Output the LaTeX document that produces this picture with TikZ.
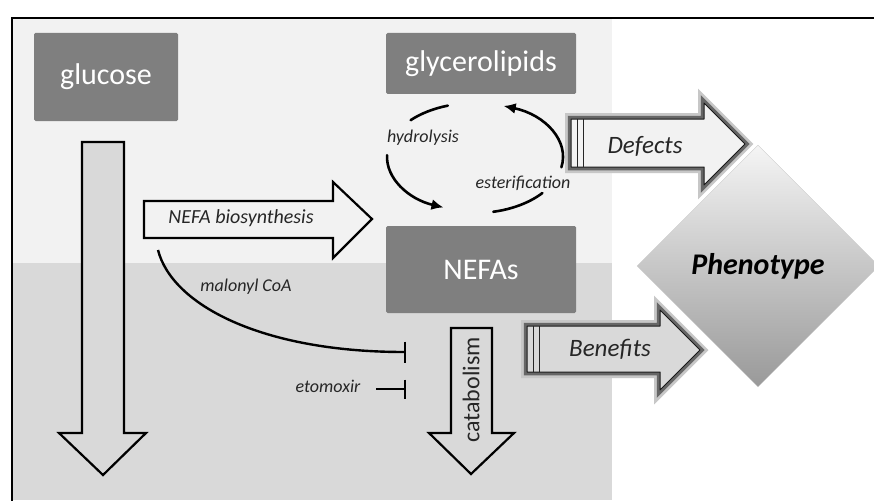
\documentclass[tikz,border=0pt]{standalone}
\usepackage{fontspec}
\setmainfont{Carlito}
\usetikzlibrary{shapes.geometric,arrows.meta}
\definecolor{boxgray}{HTML}{7F7F7F}
\definecolor{paleband}{HTML}{F2F2F2}
\definecolor{darkband}{HTML}{D9D9D9}
\definecolor{ink}{HTML}{262626}
\begin{document}
\begin{tikzpicture}[x=1pt,y=-1pt]
        \tikzstyle{metab} = [fill=boxgray, rounded corners=1.5pt, text=white, inner sep=0pt, font=\fontsize{30}{36}\selectfont]
        \tikzstyle{bigarrow} = [draw=black, line width=2.2pt, line join=miter]
        \tikzstyle{glowarrow} = [draw=black!90, line width=1pt, line join=round, preaction={draw=black!22, line width=12pt}, preaction={draw=black!60, line width=6.5pt}]
        \tikzstyle{cyclearc} = [line width=2.6pt, line cap=round]
        \tikzstyle{lbl} = [text=ink, font=\fontsize{18}{22}\selectfont\itshape]

		\useasboundingbox (0,0) rectangle (874,500);
		\fill[white] (0,0) rectangle (874,500);
		\fill[paleband] (12,18) rectangle (612,263);
		\fill[darkband] (12,263) rectangle (612,500);
		\draw[line width=2.7pt] (12,520) -- (12,18) -- (890,18);

		\node[metab, minimum width=144pt, minimum height=88pt] (glucose) at (106,77) {glucose};
		\node[metab, minimum width=190pt, minimum height=61pt] (glycerolipids) at (481,63.5) {glycerolipids};
		\node[metab, minimum width=190pt, minimum height=87pt] (nefas) at (481,269.5) {NEFAs};

		\draw[bigarrow, fill=darkband] (82,142) -- (124,142) -- (124,433) -- (146,433) -- (103,475) -- (59,433) -- (82,433) -- cycle;
		\draw[bigarrow, fill=paleband] (144,201) -- (333,201) -- (333,182) -- (372,219) -- (333,258) -- (333,238) -- (144,238) -- cycle;
		\draw[bigarrow, fill=darkband] (451,328) -- (492,328) -- (492,433) -- (514,433) -- (471,474) -- (429,433) -- (451,433) -- cycle;
		\node[lbl, font=\fontsize{20}{24}\selectfont\itshape] (biosyn) at (241,218) {NEFA biosynthesis};
		\node[text=ink, rotate=90, font=\fontsize{24}{28}\selectfont] (catab) at (471,390) {catabolism};

		\coordinate (cyc) at (475,157);
		\draw[cyclearc] (cyc) ++(137:88pt and 54pt) arc[start angle=137, end angle=108, x radius=88pt, y radius=54pt];
		\draw[cyclearc, -{Latex[length=12pt,width=11pt]}] (cyc) ++(-11:88pt and 54pt) arc[start angle=-11, end angle=71, x radius=88pt, y radius=54pt];
		\draw[cyclearc, -{Latex[length=12pt,width=11pt]}] (cyc) ++(178:88pt and 54pt) arc[start angle=178, end angle=249, x radius=88pt, y radius=54pt];
		\draw[cyclearc] (cyc) ++(282:88pt and 56pt) arc[start angle=282, end angle=320, x radius=88pt, y radius=56pt];
		\node[lbl] (hydro) at (423,138) {hydrolysis};
		\node[lbl] (ester) at (523,183) {esterification};

		\coordinate (malstart) at (158,250);
		\coordinate (malend) at (406,352);
		\coordinate (etostart) at (376,389);
		\coordinate (etoend) at (406,389);
		\draw[line width=2.4pt, -{Bar[width=21pt]}] (malstart) .. controls (172,305) and (262,352) .. (malend);
		\draw[line width=2.4pt, -{Bar[width=19pt]}] (etostart) -- (etoend);
		\node[lbl] (malonyl) at (246,287) {malonyl CoA};
		\node[lbl] (etox) at (328,386) {etomoxir};

		\node[diamond, minimum width=242pt, minimum height=242pt, inner sep=0pt, draw=black!20, top color=black!4, bottom color=black!40, text=black, font=\fontsize{30}{36}\selectfont\bfseries\itshape] (pheno) at (758,266) {Phenotype};

		\draw[glowarrow, fill=paleband] (571,119) -- (704,119) -- (704,103) -- (745,144) -- (704,185) -- (704,167) -- (571,167) -- cycle;
		\draw[black!85, line width=1pt] (577,119) -- (577,167);
		\draw[black!85, line width=1pt] (583,119) -- (583,167);
		\node[lbl, font=\fontsize{25}{30}\selectfont\itshape] (defects) at (645,146) {Defects};

		\draw[glowarrow, fill=darkband] (527,326) -- (660,326) -- (660,310) -- (700,350) -- (660,390) -- (660,372) -- (527,372) -- cycle;
		\draw[black!85, line width=1pt] (533,326) -- (533,372);
		\draw[black!85, line width=1pt] (539,326) -- (539,372);
		\node[lbl, font=\fontsize{25}{30}\selectfont\itshape] (benefits) at (610,349) {Benefits};

    \end{tikzpicture}
\end{document}
